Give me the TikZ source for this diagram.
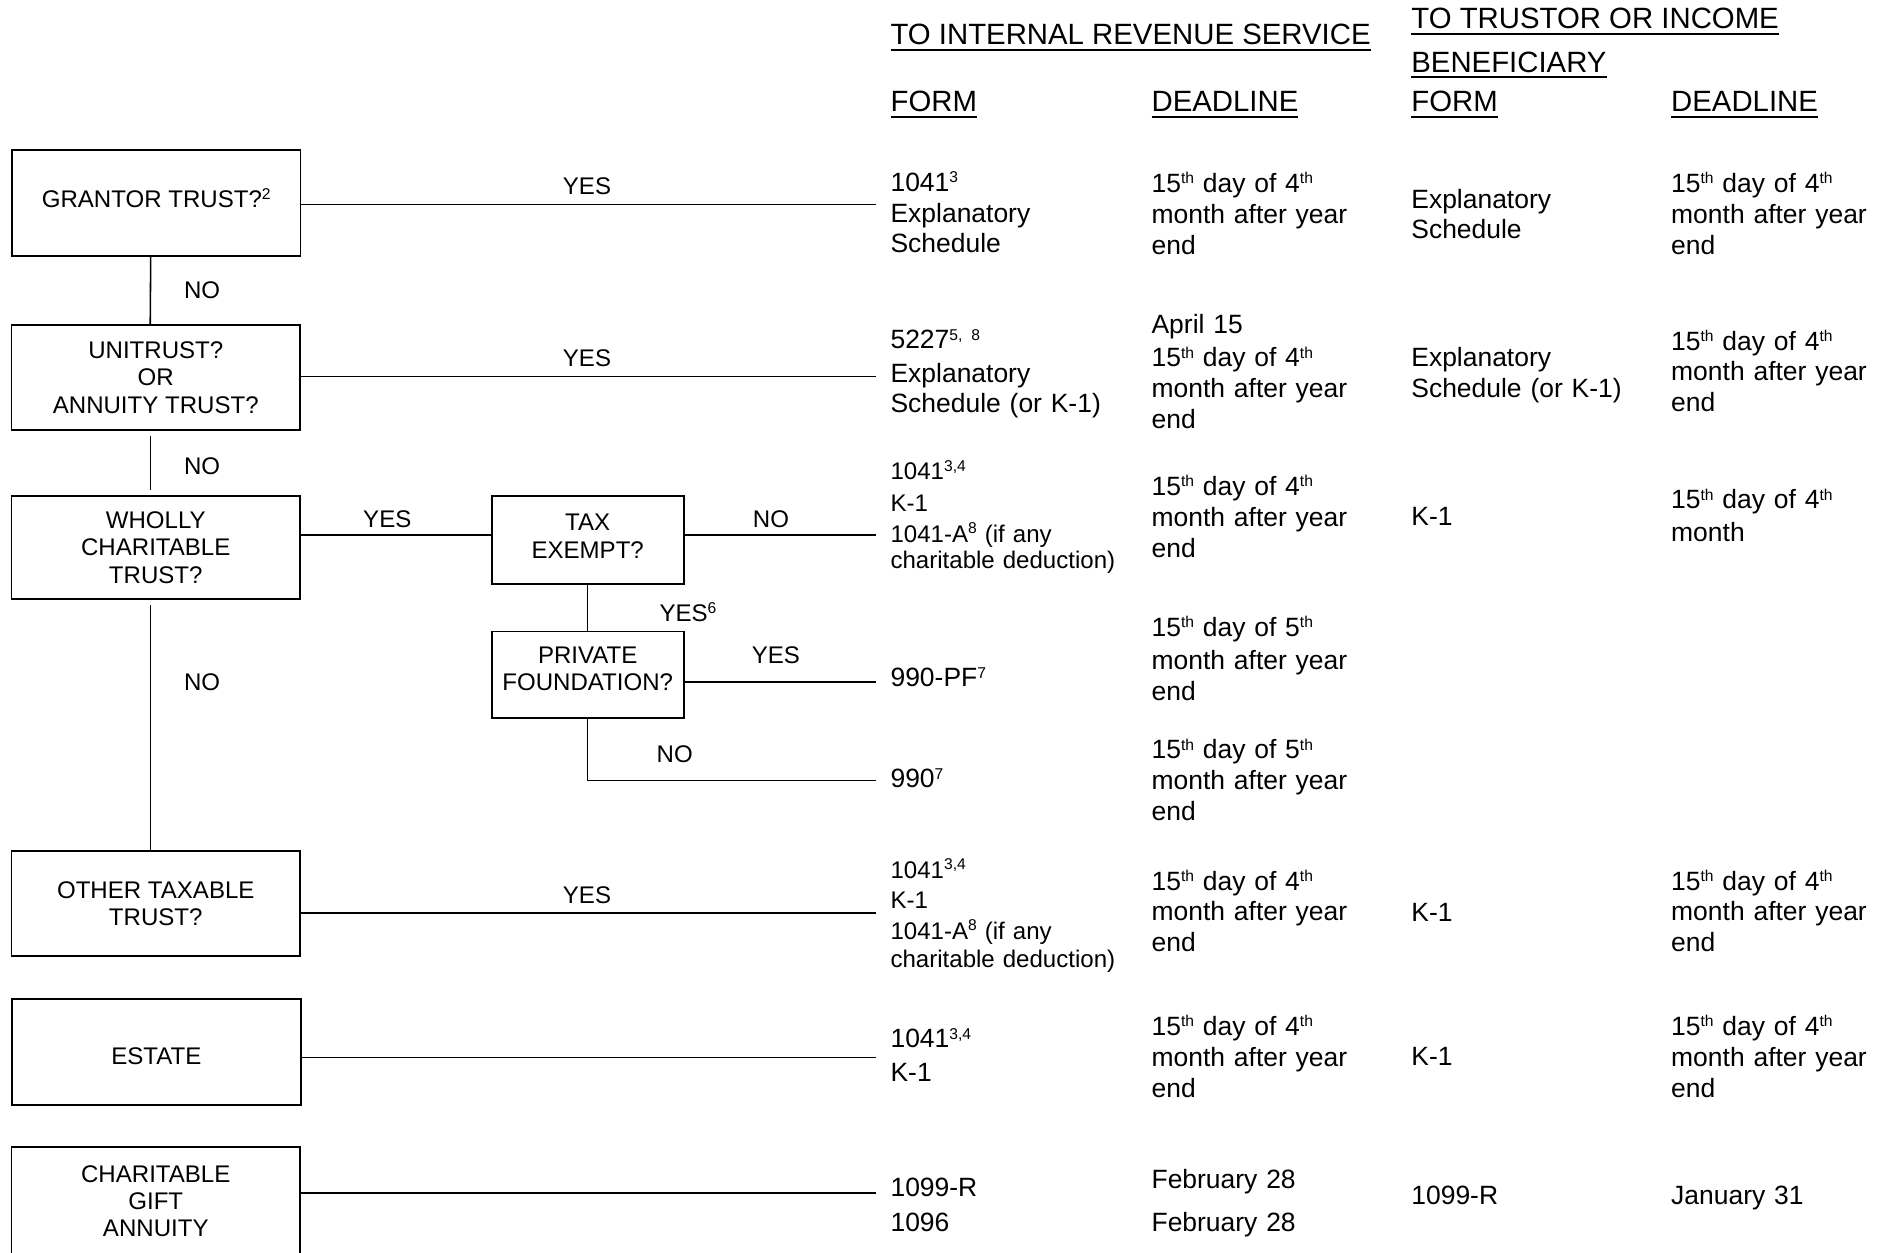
\documentclass[tikz,border=0pt]{standalone}
\usepackage{fontspec}
\setmainfont{Liberation Sans}
\newcommand\bodyfont{\fontsize{11}{12.8}\selectfont}
\newcommand\smallbody{\fontsize{10}{11}\selectfont}
\newcommand\headfont{\fontsize{12.2}{14}\selectfont}
\newcommand\boxfont{\fontsize{10}{11.3}\selectfont}
\newcommand\hdr[1]{\setbox0\hbox{#1}\rlap{\rule[-2.6pt]{\wd0}{0.9pt}}\box0}
\newcommand\sps[1]{\raisebox{3.6pt}{\fontsize{6.5}{7}\selectfont #1}}
\newcommand\lift[1]{\rule[-#1]{0pt}{0pt}}
\tikzset{
  qbox/.style={draw, line width=0.75pt, align=center, font=\boxfont, inner sep=0pt},
  conn/.style={line width=0.65pt},
  lbl/.style={font=\boxfont, inner sep=0pt},
  cell/.style={anchor=base west, align=left, inner sep=0pt, text width=88pt, font=\bodyfont},
  scell/.style={cell, text width=96pt, font=\smallbody},
  head/.style={anchor=base west, inner sep=0pt, font=\headfont},
}
\begin{document}
\begin{tikzpicture}[x=0.5pt,y=-0.5pt]
\useasboundingbox (0,0) rectangle (1568,1041);
\clip (0,0) rectangle (1568,1041);

% headers
\node[head] (h-irs) at (740,37) {\hdr{TO INTERNAL REVENUE SERVICE}};
\node[head] (h-tr1) at (1173,24) {\hdr{TO TRUSTOR OR INCOME}};
\node[head] (h-tr2) at (1173,60) {\hdr{BENEFICIARY}};
\node[head] (h-f1) at (740,93) {\hdr{FORM}};
\node[head] (h-d1) at (957,93) {\hdr{DEADLINE}};
\node[head] (h-f2) at (1173,93) {\hdr{FORM}};
\node[head] (h-d2) at (1389,93) {\hdr{DEADLINE}};

% decision boxes
\node[qbox, minimum width=120pt, minimum height=44pt, text height=8pt, text depth=4pt] (grantor) at (129.9,168.8) {GRANTOR TRUST?\sps{2}};
\node[qbox, minimum width=120pt, minimum height=43.5pt] (unitrust) at (129.5,314) {UNITRUST?\\OR\\ANNUITY TRUST?};
\node[qbox, minimum width=120pt, minimum height=43pt] (wholly) at (129.5,455.2) {WHOLLY\\CHARITABLE\\TRUST?};
\node[qbox, minimum width=79.8pt, minimum height=36.75pt] (tax) at (488.6,448.8) {TAX\\EXEMPT?\lift{3pt}};
\node[qbox, minimum width=79.8pt, minimum height=35.85pt] (private) at (488.6,560.9) {PRIVATE\\FOUNDATION?\lift{5pt}};
\node[qbox, minimum width=120pt, minimum height=43.75pt] (other) at (129.5,751) {OTHER TAXABLE\\TRUST?};
\node[qbox, minimum width=120pt, minimum height=44pt, text height=10.2pt, text depth=0pt] (estate) at (130,874.8) {ESTATE};
\node[qbox, minimum width=120pt, minimum height=45pt] (charitable) at (129.5,998.6) {CHARITABLE\\GIFT\\ANNUITY};

% free ends of connectors
\coordinate (gend) at (728,170);
\coordinate (uend) at (728,313);
\coordinate (tend) at (728,445);
\coordinate (pfend) at (728,567);
\coordinate (nend) at (728,649);
\coordinate (oend) at (728,759);
\coordinate (eend) at (728,879);
\coordinate (cend) at (728,992);

% connectors
\draw[conn] (grantor.east |- gend) -- (gend);
\draw[conn] (unitrust.east |- uend) -- (uend);
\draw[conn] (wholly.east |- tend) -- (tax.west |- tend);
\draw[conn] (tax.east |- tend) -- (tend);
\draw[conn] (tax.south) -- (private.north);
\draw[conn] (private.east |- pfend) -- (pfend);
\draw[conn] (private.south) |- (nend);
\draw[conn] (other.east |- oend) -- (oend);
\draw[conn] (estate.east |- eend) -- (eend);
\draw[conn] (charitable.east |- cend) -- (cend);
\draw[conn] ([xshift=-2.3pt]grantor.south) -- ([xshift=-2.3pt]unitrust.north);
\draw[conn, shorten <=2pt, shorten >=2pt] ([xshift=-2.1pt]unitrust.south) -- ([xshift=-2.1pt]wholly.north);
\draw[conn, shorten <=2pt] ([xshift=-2.1pt]wholly.south) -- ([xshift=-2.1pt]other.north);

% connector labels
\node[lbl] (l-g) at (488,155) {YES};
\node[lbl] (l-gu) at (168,241) {NO};
\node[lbl] (l-u) at (488,298) {YES};
\node[lbl] (l-uw) at (168,388) {NO};
\node[lbl] (l-wt) at (322,432) {YES};
\node[lbl] (l-tn) at (641,432) {NO};
\node[lbl] (l-tp) at (572,509) {YES\sps{6}};
\node[lbl] (l-py) at (645,545) {YES};
\node[lbl] (l-pn) at (561,627) {NO};
\node[lbl] (l-wo) at (168,567) {NO};
\node[lbl] (l-o) at (488,744) {YES};

% grantor row
\node[cell] (g-f1) at (740,159) {1041\sps{3}\\Explanatory\\Schedule};
\node[cell] (g-d1) at (957,160) {15\sps{th} day of 4\sps{th}\\month after year\\end};
\node[cell] (g-f2) at (1173,173) {Explanatory\\Schedule};
\node[cell] (g-d2) at (1389,160) {15\sps{th} day of 4\sps{th}\\month after year\\end};

% unitrust row
\node[cell] (u-f1) at (740,290) {5227\sps{5, 8}\\[1pt]Explanatory\\Schedule (or K-1)};
\node[cell] (u-d1) at (957,277) {April 15\\[1.2pt]15\sps{th} day of 4\sps{th}\\month after year\\end};
\node[cell] (u-f2) at (1173,305) {Explanatory\\Schedule (or K-1)};
\node[cell] (u-d2) at (1389,291) {15\sps{th} day of 4\sps{th}\\month after year\\end};

% wholly charitable row
\node[scell] (w-f1) at (740,399) {1041\sps{3,4}\\[2pt]K-1\\[2pt]1041-A\sps{8} (if any\\charitable deduction)};
\node[cell] (w-d1) at (957,412) {15\sps{th} day of 4\sps{th}\\month after year\\end};
\node[cell] (w-f2) at (1173,437) {K-1};
\node[cell] (w-d2) at (1389,423) {15\sps{th} day of 4\sps{th}\\[0.7pt]month};

% private foundation
\node[cell] (p-f1) at (740,571) {990-PF\sps{7}};
\node[cell] (p-d1) at (957,529) {15\sps{th} day of 5\sps{th}\\[1.2pt]month after year\\end};

% not private foundation
\node[cell] (n-f1) at (740,655) {990\sps{7}};
\node[cell] (n-d1) at (957,631) {15\sps{th} day of 5\sps{th}\\month after year\\end};

% other taxable trust
\node[scell] (o-f1) at (740,730) {1041\sps{3,4}\\[1.5pt]K-1\\[2pt]1041-A\sps{8} (if any\\[0.5pt]charitable deduction)};
\node[cell] (o-d1) at (957,740) {15\sps{th} day of 4\sps{th}\\month after year\\end};
\node[cell] (o-f2) at (1173,766) {K-1};
\node[cell] (o-d2) at (1389,740) {15\sps{th} day of 4\sps{th}\\month after year\\end};

% estate
\node[cell] (e-f1) at (740,871) {1041\sps{3,4}\\[1.2pt]K-1};
\node[cell] (e-d1) at (957,861) {15\sps{th} day of 4\sps{th}\\month after year\\end};
\node[cell] (e-f2) at (1173,886) {K-1};
\node[cell] (e-d2) at (1389,861) {15\sps{th} day of 4\sps{th}\\month after year\\end};

% charitable gift annuity
\node[cell] (c-f1) at (740,995) {1099-R\\[1.7pt]1096};
\node[cell] (c-d1) at (957,988) {February 28\\[5.2pt]February 28};
\node[cell] (c-f2) at (1173,1001) {1099-R};
\node[cell] (c-d2) at (1389,1001) {January 31};
\end{tikzpicture}
\end{document}
